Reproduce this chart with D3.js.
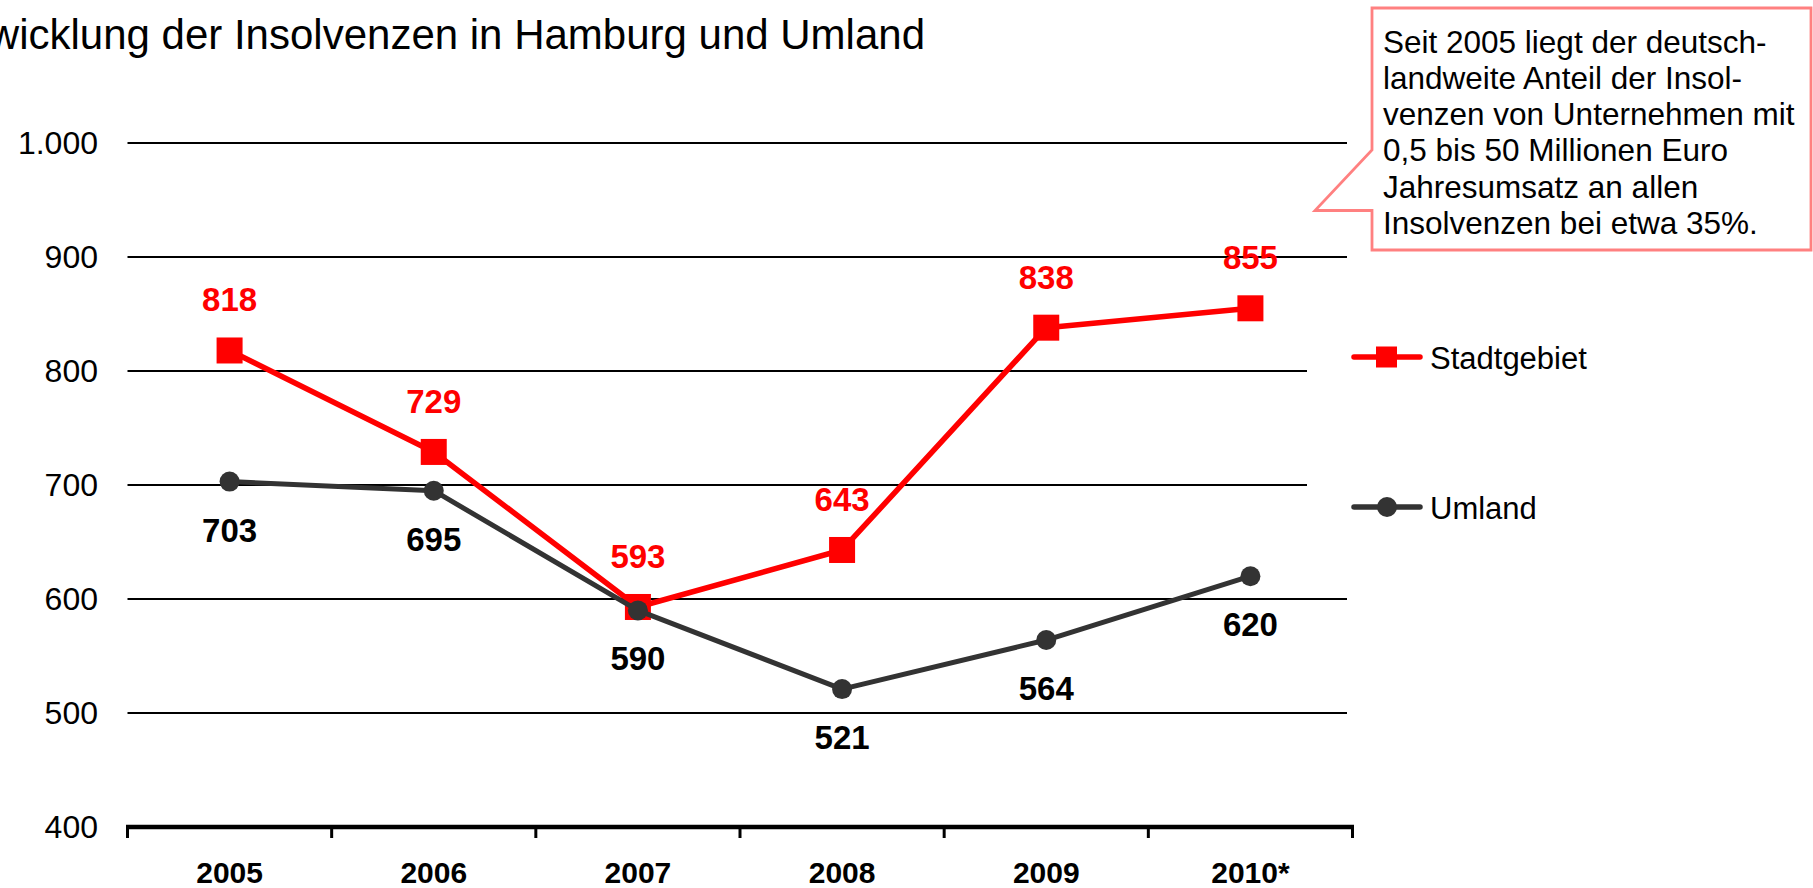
<!DOCTYPE html>
<html>
<head>
<meta charset="utf-8">
<script src="https://cdn.jsdelivr.net/npm/d3@7"></script>
<style>
  body { margin: 0; background: #fff; }
  svg { display: block; font-family: "Liberation Sans", Arial, sans-serif; }
</style>
</head>
<body>
<svg width="1813" height="888"></svg>
<script>
// data
var years = ["2005", "2006", "2007", "2008", "2009", "2010*"];
var stadtgebiet = [818, 729, 593, 643, 838, 855];
var umland = [703, 695, 590, 521, 564, 620];
var yTicks = [400, 500, 600, 700, 800, 900, 1000];
var noteLines = [
  "Seit 2005 liegt der deutsch-",
  "landweite Anteil der Insol-",
  "venzen von Unternehmen mit",
  "0,5 bis 50 Millionen Euro",
  "Jahresumsatz an allen",
  "Insolvenzen bei etwa 35%."
];

var svg = d3.select("svg");
var RED = "#ff0000", DARK = "#333333";

var x = d3.scaleBand().domain(years).range([127.5, 1352.5]);
var y = d3.scaleLinear().domain([400, 1000]).range([827, 143]);
function cx(i) { return x(years[i]) + x.bandwidth() / 2; }

// title (left part cut off like in the original)
svg.append("text")
  .attr("x", 925).attr("y", 49)
  .attr("text-anchor", "end")
  .style("font-size", "42px")
  .text("Entwicklung der Insolvenzen in Hamburg und Umland");

// gridlines
svg.append("g").selectAll("line")
  .data(yTicks.filter(function(d) { return d > 400; }))
  .enter().append("line")
  .attr("x1", 127.5).attr("x2", 1347)
  .attr("y1", function(d) { return y(d); })
  .attr("y2", function(d) { return y(d); })
  .attr("stroke", "#000").attr("stroke-width", 2);

// y axis labels
var yAxis = svg.append("g")
  .attr("transform", "translate(98,0)")
  .call(d3.axisLeft(y).tickValues(yTicks).tickSize(0).tickPadding(0)
    .tickFormat(function(d) { return d3.format(",")(d).replace(",", "."); }));
yAxis.select(".domain").remove();
yAxis.selectAll("text").style("font-size", "32px").attr("fill", "#000")
  .style("font-family", "'Liberation Sans', Arial, sans-serif");

// x axis
var xAxis = svg.append("g")
  .attr("transform", "translate(0,827)")
  .call(d3.axisBottom(x).tickSize(0).tickPadding(0));
xAxis.select(".domain").remove();
xAxis.selectAll("text")
  .attr("y", 56).attr("dy", 0)
  .style("font-size", "30px").style("font-weight", "bold")
  .style("font-family", "'Liberation Sans', Arial, sans-serif")
  .attr("fill", "#000");

var edges = years.map(function(d) { return x(d); }).concat([x.range()[1]]);
svg.append("g").selectAll("line")
  .data(edges).enter().append("line")
  .attr("x1", function(d) { return d; }).attr("x2", function(d) { return d; })
  .attr("y1", 827).attr("y2", 838)
  .attr("stroke", "#000").attr("stroke-width", 3);
svg.append("line")
  .attr("x1", 126).attr("x2", 1354).attr("y1", 827).attr("y2", 827)
  .attr("stroke", "#000").attr("stroke-width", 4.5);

// lines
var line = d3.line().x(function(d, i) { return cx(i); }).y(function(d) { return y(d); });

svg.append("path").datum(stadtgebiet)
  .attr("d", line).attr("fill", "none")
  .attr("stroke", RED).attr("stroke-width", 5.5).attr("stroke-linejoin", "round");
svg.append("g").selectAll("rect")
  .data(stadtgebiet).enter().append("rect")
  .attr("x", function(d, i) { return cx(i) - 13; })
  .attr("y", function(d) { return y(d) - 13; })
  .attr("width", 26).attr("height", 26)
  .attr("fill", RED);

svg.append("path").datum(umland)
  .attr("d", line).attr("fill", "none")
  .attr("stroke", DARK).attr("stroke-width", 5).attr("stroke-linejoin", "round");
svg.append("g").selectAll("circle")
  .data(umland).enter().append("circle")
  .attr("cx", function(d, i) { return cx(i); })
  .attr("cy", function(d) { return y(d); })
  .attr("r", 10).attr("fill", DARK);

// value labels
svg.append("g").selectAll("text")
  .data(stadtgebiet).enter().append("text")
  .attr("x", function(d, i) { return cx(i); })
  .attr("y", function(d) { return y(d) - 39; })
  .attr("text-anchor", "middle")
  .style("font-size", "33px").style("font-weight", "bold")
  .attr("fill", RED)
  .text(function(d) { return d; });
svg.append("g").selectAll("text")
  .data(umland).enter().append("text")
  .attr("x", function(d, i) { return cx(i); })
  .attr("y", function(d) { return y(d) + 60; })
  .attr("text-anchor", "middle")
  .style("font-size", "33px").style("font-weight", "bold")
  .attr("fill", "#000")
  .text(function(d) { return d; });

// legend (white box hides the gridlines behind it)
var legend = svg.append("g");
legend.append("rect")
  .attr("x", 1307).attr("y", 300).attr("width", 260).attr("height", 270)
  .attr("fill", "#fff");
var legItems = [
  { name: "Stadtgebiet", color: RED, yy: 357, shape: "square" },
  { name: "Umland", color: DARK, yy: 507, shape: "circle" }
];
legItems.forEach(function(it) {
  legend.append("line")
    .attr("x1", 1354).attr("x2", 1420).attr("y1", it.yy).attr("y2", it.yy)
    .attr("stroke", it.color).attr("stroke-width", 5.5).attr("stroke-linecap", "round");
  if (it.shape == "square") {
    legend.append("rect").attr("x", 1376).attr("y", it.yy - 10.5)
      .attr("width", 21).attr("height", 21).attr("fill", it.color);
  } else {
    legend.append("circle").attr("cx", 1387).attr("cy", it.yy).attr("r", 10).attr("fill", it.color);
  }
  legend.append("text")
    .attr("x", 1430).attr("y", it.yy + 12)
    .style("font-size", "31px")
    .text(it.name);
});

// callout
var bx0 = 1372, bx1 = 1811, by0 = 8, by1 = 250;
var calloutPts = [[bx0, by0], [bx1, by0], [bx1, by1], [bx0, by1], [bx0, 210.5],
                  [1315, 210.5], [bx0, 150]];
svg.append("path")
  .attr("d", d3.line()(calloutPts) + "Z")
  .attr("fill", "#fff").attr("stroke", "#ff8080").attr("stroke-width", 2.8);
svg.append("g").selectAll("text")
  .data(noteLines).enter().append("text")
  .attr("x", 1383)
  .attr("y", function(d, i) { return 52.7 + i * 36.2; })
  .style("font-size", "31.5px")
  .text(function(d) { return d; });
</script>
</body>
</html>
